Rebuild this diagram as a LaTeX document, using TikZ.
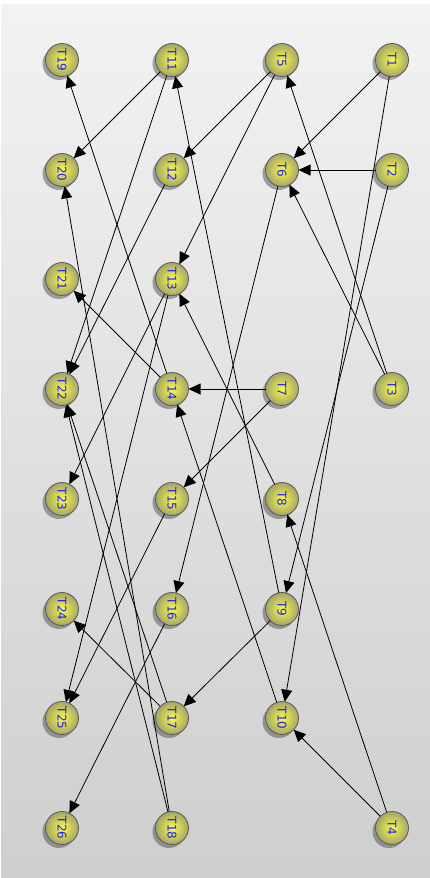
\documentclass[tikz,border=0pt]{standalone}
\usepackage{fontspec}
\setmainfont{DejaVu Sans}
\usetikzlibrary{arrows.meta,shadows}
\definecolor{nodein}{RGB}{250,250,70}
\definecolor{nodeout}{RGB}{165,165,105}
\definecolor{labelblue}{RGB}{30,30,255}
\tikzset{
  tnode/.style={circle,minimum size=33pt,inner sep=0pt,outer sep=0pt,
    draw=black!65,line width=0.8pt,inner color=nodein,outer color=nodeout,
    drop shadow={shadow xshift=-3pt,shadow yshift=-3.5pt,opacity=0.45,fill=black!75},
    font=\fontsize{12}{14}\selectfont,text=labelblue,rotate=-90},
  edge/.style={draw=black,line width=0.8pt,-{Triangle[length=12pt,width=11pt]}}
}
\begin{document}
\begin{tikzpicture}[x=1pt,y=-1pt]
\useasboundingbox (0,0) rectangle (430,878);
\fill[white] (0,0) rectangle (430,878);
\shade[top color=black!5,bottom color=black!19] (1,4) rectangle (430,878);
% column 1
\node[tnode] (T19) at (62,60) {T19};
\node[tnode] (T20) at (62,170) {T20};
\node[tnode] (T21) at (62,279) {T21};
\node[tnode] (T22) at (62,389) {T22};
\node[tnode] (T23) at (62,499) {T23};
\node[tnode] (T24) at (62,609) {T24};
\node[tnode] (T25) at (62,718) {T25};
\node[tnode] (T26) at (62,828) {T26};
% column 2
\node[tnode] (T11) at (172,60) {T11};
\node[tnode] (T12) at (172,170) {T12};
\node[tnode] (T13) at (172,279) {T13};
\node[tnode] (T14) at (172,389) {T14};
\node[tnode] (T15) at (172,499) {T15};
\node[tnode] (T16) at (172,609) {T16};
\node[tnode] (T17) at (172,718) {T17};
\node[tnode] (T18) at (172,828) {T18};
% column 3
\node[tnode] (T5) at (282,60) {T5};
\node[tnode] (T6) at (282,170) {T6};
\node[tnode] (T7) at (282,389) {T7};
\node[tnode] (T8) at (282,499) {T8};
\node[tnode] (T9) at (282,609) {T9};
\node[tnode] (T10) at (282,718) {T10};
% column 4
\node[tnode] (T1) at (392,60) {T1};
\node[tnode] (T2) at (392,170) {T2};
\node[tnode] (T3) at (392,389) {T3};
\node[tnode] (T4) at (392,828) {T4};
% edges
\foreach \a/\b in {T1/T6,T1/T10,T2/T6,T2/T9,T3/T5,T3/T6,T4/T8,T4/T10,
  T5/T12,T5/T13,T6/T16,T7/T14,T7/T15,T8/T13,T9/T11,T9/T17,T10/T14,
  T11/T20,T11/T22,T12/T22,T13/T23,T13/T25,T14/T19,T14/T21,T15/T25,
  T16/T26,T17/T22,T17/T24,T18/T20,T18/T22}
  \draw[edge] (\a) -- (\b);
\end{tikzpicture}
\end{document}
